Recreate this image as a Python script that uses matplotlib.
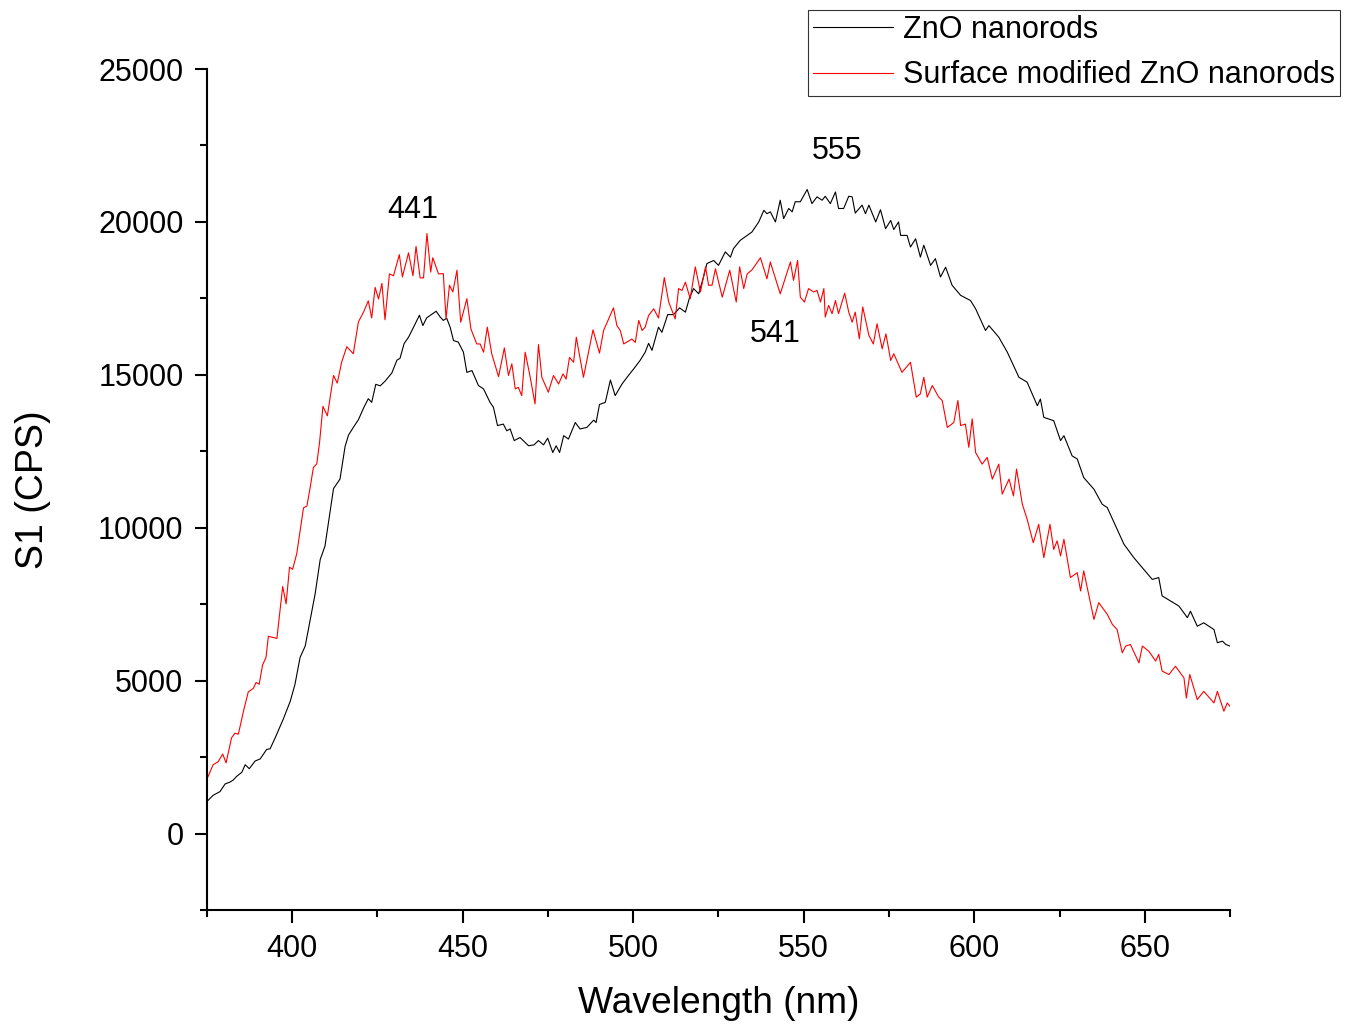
import matplotlib
matplotlib.use("Agg")
import matplotlib.pyplot as plt
from matplotlib.ticker import MultipleLocator

plt.rcParams['font.family'] = ['Liberation Sans', 'DejaVu Sans']

# ZnO nanorods (black)
wl_zno = [375.1, 376.8, 378.8, 380.3, 381.7, 382.7, 383.7, 385.2, 386.2, 387.4,
          389.1, 390.6, 392.5, 393.5, 395.0, 397.4, 399.4, 400.8, 402.3, 403.8,
          405.2, 406.7, 408.2, 409.6, 411.1, 412.1, 414.0, 415.5, 416.5, 417.9,
          419.4, 420.9, 422.3, 423.3, 424.5, 425.8, 427.2, 429.2, 430.7, 431.6,
          432.8, 434.1, 435.5, 437.3, 438.3, 439.4, 442.2, 443.4, 444.3, 445.3,
          446.3, 447.3, 448.7, 450.2, 451.2, 452.7, 454.6, 456.1, 458.0, 459.0,
          460.2, 461.9, 462.9, 463.9, 465.1, 466.8, 469.3, 470.9, 472.2, 473.7,
          474.9, 476.4, 477.4, 478.4, 479.6, 481.0, 483.0, 484.4, 486.4, 488.4,
          489.1, 490.1, 491.8, 493.3, 494.7, 496.7, 498.6, 500.1, 502.0, 503.5,
          504.5, 505.5, 507.4, 508.4, 510.1, 511.8, 513.6, 515.3, 516.5, 517.7,
          519.2, 520.6, 521.6, 523.6, 525.0, 527.0, 528.5, 529.4, 531.4, 533.4,
          534.8, 536.8, 538.3, 539.2, 540.2, 541.7, 543.1, 544.1, 545.6, 546.6,
          547.5, 549.0, 551.0, 552.4, 553.9, 555.4, 556.3, 557.8, 559.3, 560.2,
          561.7, 563.2, 564.2, 565.1, 567.1, 568.1, 569.1, 571.1, 572.5, 574.0,
          575.5, 576.4, 577.8, 578.4, 580.3, 581.3, 582.8, 584.2, 585.2, 587.2,
          588.6, 590.1, 591.6, 593.5, 596.0, 598.9, 600.4, 603.3, 604.3, 607.2,
          609.7, 613.1, 615.5, 618.5, 619.4, 620.4, 623.3, 625.3, 626.3, 628.7,
          630.2, 632.1, 635.1, 637.5, 639.0, 641.9, 643.9, 646.8, 649.3, 652.2,
          654.1, 655.1, 657.6, 660.0, 662.5, 663.4, 665.4, 667.3, 670.3, 671.3,
          672.8, 673.8, 675.0]
s1_zno = [1060, 1250, 1370, 1620, 1680, 1750, 1870, 2000, 2250, 2120,
          2370, 2440, 2750, 2770, 3130, 3750, 4320, 4880, 5760, 6130,
          6950, 7830, 8960, 9400, 10520, 11280, 11590, 12660, 13030, 13280,
          13530, 13910, 14220, 14100, 14690, 14640, 14790, 15060, 15480, 15540,
          16020, 16230, 16540, 16950, 16610, 16860, 17080, 16890, 16780, 16850,
          16560, 16120, 16070, 15740, 15080, 15140, 14650, 14540, 14100, 13940,
          13340, 13390, 13170, 13230, 12850, 12950, 12680, 12710, 12850, 12710,
          12930, 12460, 12680, 12460, 13010, 12900, 13440, 13230, 13280, 13520,
          13440, 14030, 14100, 14830, 14320, 14700, 14980, 15190, 15470, 15740,
          16030, 15800, 16560, 16390, 16970, 16970, 17190, 17050, 17520, 17820,
          17650, 18200, 18640, 18740, 18580, 19020, 18850, 19130, 19400, 19560,
          19670, 20000, 20380, 20270, 20330, 20000, 20710, 20110, 20440, 20330,
          20660, 20660, 21060, 20600, 20820, 20710, 20840, 20600, 20980, 20440,
          20440, 20840, 20820, 20290, 20550, 20270, 20550, 20000, 20400, 19780,
          20050, 19750, 20000, 19560, 19560, 19180, 19450, 18850, 19240, 18580,
          18800, 18200, 18520, 17930, 17600, 17430, 17160, 16450, 16610, 16230,
          15740, 14920, 14760, 13990, 14210, 13610, 13500, 12850, 13010, 12350,
          12250, 11640, 11260, 10770, 10660, 9950, 9460, 9020, 8690, 8310,
          8370, 7770, 7600, 7440, 7060, 7270, 6780, 6890, 6670, 6240,
          6290, 6180, 6130]

# Surface modified ZnO nanorods (red)
wl_mod = [375.1, 376.8, 378.3, 379.6, 380.6, 382.2, 383.2, 384.2, 385.7, 387.1,
          388.6, 389.4, 390.3, 391.3, 392.3, 393.0, 395.5, 397.2, 398.2, 399.2,
          400.1, 401.3, 402.3, 403.3, 404.3, 405.2, 406.2, 407.2, 408.0, 409.0,
          410.3, 412.1, 413.2, 414.5, 416.0, 417.9, 419.4, 420.9, 422.3, 423.3,
          424.3, 425.3, 426.3, 427.2, 428.5, 429.7, 431.4, 432.3, 434.1, 435.4,
          436.3, 437.5, 438.5, 439.5, 440.6, 441.2, 442.9, 444.3, 445.1, 446.1,
          447.1, 448.3, 449.4, 451.2, 452.4, 454.1, 455.1, 456.1, 457.2, 458.5,
          460.5, 462.2, 463.4, 464.4, 465.4, 466.3, 467.3, 468.3, 469.6, 471.2,
          472.2, 473.2, 475.1, 476.6, 478.1, 479.4, 480.3, 481.3, 482.5, 483.3,
          485.4, 488.2, 490.1, 491.3, 494.2, 495.2, 496.2, 497.2, 499.6, 500.6,
          501.6, 502.6, 503.5, 504.5, 506.0, 507.4, 509.1, 510.4, 512.3, 513.3,
          514.3, 515.3, 516.7, 518.2, 519.7, 521.2, 522.1, 523.1, 524.1, 526.1,
          528.3, 530.2, 531.2, 532.4, 533.4, 534.8, 537.3, 539.2, 540.2, 543.1,
          546.1, 547.0, 548.2, 549.0, 550.2, 551.4, 552.9, 553.9, 554.9, 555.9,
          556.3, 557.3, 558.3, 559.3, 560.2, 562.0, 563.2, 564.2, 565.1, 566.3,
          567.3, 569.1, 570.4, 571.5, 573.0, 574.1, 575.5, 576.4, 578.8, 581.3,
          583.0, 584.2, 585.2, 586.2, 587.7, 589.6, 590.6, 592.1, 594.0, 595.2,
          596.0, 597.4, 598.4, 599.4, 600.4, 602.3, 603.8, 605.3, 607.2, 608.2,
          610.2, 611.5, 612.4, 614.1, 615.5, 617.3, 618.9, 620.4, 622.2, 623.3,
          624.3, 625.3, 626.3, 628.2, 630.2, 631.2, 632.1, 635.1, 636.5, 639.0,
          640.5, 641.9, 643.4, 644.4, 645.8, 648.3, 649.3, 651.2, 653.2, 654.1,
          655.1, 657.1, 659.0, 661.5, 662.2, 663.2, 665.4, 667.3, 670.3, 671.3,
          673.2, 674.2, 675.0]
s1_mod = [1810, 2250, 2350, 2600, 2310, 3130, 3280, 3250, 4000, 4630,
          4750, 4940, 4880, 5510, 5760, 6450, 6380, 8080, 7510, 8710,
          8640, 9140, 9900, 10650, 10710, 11280, 11970, 12090, 12780, 13970,
          13660, 14980, 14730, 15420, 15920, 15690, 16730, 17050, 17420, 16860,
          17860, 17480, 17990, 16800, 18300, 18240, 18930, 18200, 18990, 18240,
          19200, 18170, 18170, 19620, 18360, 18830, 18300, 18310, 16830, 17930,
          17710, 18420, 16720, 17490, 16500, 16010, 16010, 15740, 16560, 15690,
          14940, 15880, 14980, 15360, 14540, 14590, 14320, 15740, 15030, 14050,
          15990, 14920, 14430, 14980, 14700, 15030, 14860, 15570, 15410, 16230,
          14920, 16470, 15710, 16450, 17190, 16610, 16450, 16010, 16170, 16060,
          16780, 16450, 16560, 16940, 17160, 16860, 18180, 17380, 16830, 17820,
          17760, 18030, 17490, 18530, 17710, 18530, 17930, 17930, 18470, 17540,
          18420, 17380, 18530, 17820, 18300, 18430, 18830, 18140, 18690, 17650,
          18690, 18090, 18740, 17540, 17380, 17820, 17710, 17760, 17380, 17820,
          16890, 17270, 17000, 17430, 17000, 17670, 17050, 16720, 17050, 16180,
          17220, 16290, 16010, 16670, 15850, 16340, 15470, 15690, 15080, 15410,
          14270, 14380, 14920, 14270, 14650, 14270, 14160, 13280, 13440, 14160,
          13340, 13390, 12630, 13560, 12460, 12080, 12300, 11590, 12080, 11100,
          11590, 11040, 11920, 10770, 10280, 9510, 10110, 9020, 10110, 9290,
          9570, 9080, 9620, 8370, 8530, 7930, 8590, 7000, 7550, 7170,
          6840, 6670, 5910, 6130, 6180, 5580, 6130, 5960, 5640, 5860,
          5310, 5200, 5470, 5090, 4430, 5200, 4380, 4650, 4270, 4650,
          4000, 4270, 4160]

peak_labels = ["441", "555", "541"]
peak_pos = [(435.2, 20380), (559.9, 22320), (541.7, 16320)]

fig = plt.figure(figsize=(13.45, 10.26), dpi=100)
ax = fig.add_axes([0.1539, 0.1131, 0.7606, 0.8196])

ax.plot(wl_zno, s1_zno, color="black", lw=0.8, label="ZnO nanorods")
ax.plot(wl_mod, s1_mod, color="red", lw=0.8, label="Surface modified ZnO nanorods")

for lab, (px, py) in zip(peak_labels, peak_pos):
    ax.text(px, py, lab, fontsize=22, ha="center", va="center")

ax.set_xlim(375, 675)
ax.set_ylim(-2500, 25000)
ax.xaxis.set_major_locator(MultipleLocator(50))
ax.xaxis.set_minor_locator(MultipleLocator(25))
ax.yaxis.set_major_locator(MultipleLocator(5000))
ax.yaxis.set_minor_locator(MultipleLocator(2500))

for side in ["top", "right"]:
    ax.spines[side].set_visible(False)
for side in ["left", "bottom"]:
    ax.spines[side].set_linewidth(1.5)

ax.tick_params(which="major", direction="out", length=9, width=1.5, labelsize=22, pad=8)
ax.tick_params(which="minor", direction="out", length=5, width=1.5)

ax.set_xlabel("Wavelength (nm)", fontsize=26.7, labelpad=16)
ax.set_ylabel("S1 (CPS)", fontsize=27, labelpad=34)

leg = fig.legend(loc="upper right", bbox_to_anchor=(1340 / 1345, 1 - 10 / 1026),
                 fontsize=22, frameon=True, fancybox=False, edgecolor="black",
                 handlelength=2.6, handletextpad=0.33, labelspacing=0.5,
                 borderpad=0.17, borderaxespad=0)
leg.get_frame().set_linewidth(0.8)

fig.savefig("out.png", dpi=100)
